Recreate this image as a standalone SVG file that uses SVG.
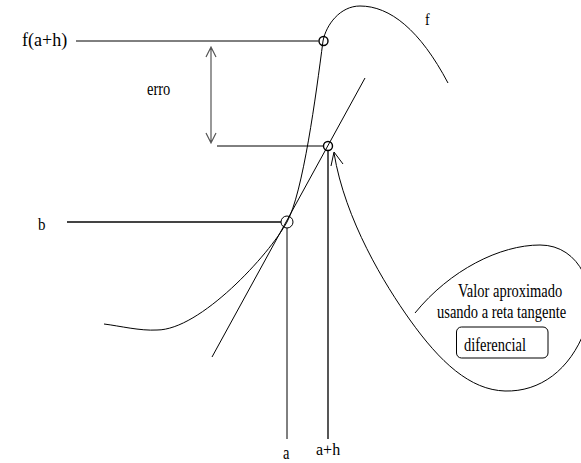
<svg xmlns="http://www.w3.org/2000/svg" width="581" height="463" viewBox="0 0 581 463" font-family="'Liberation Serif', 'Times New Roman', Times, serif">
<style>
.ln{fill:none;stroke:#000;stroke-width:1}
.gl{fill:none;stroke:#444;stroke-width:1.8}
.ga{fill:none;stroke:#555;stroke-width:1.2}
.pt{fill:none;stroke:#000;stroke-width:1.4}
text{font-family:"Liberation Serif","Times New Roman",Times,serif;fill:#000}
.t{font-size:14.5px}
</style>
<rect width="581" height="463" fill="#fff"/>
<g id="connectors">
<line class="ln" x1="76" y1="41" x2="318.5" y2="41"/>
<line class="ln" x1="217" y1="146" x2="323.5" y2="146"/>
<line class="gl" x1="67" y1="222" x2="281" y2="222"/>
<line class="ln" x1="287" y1="228" x2="287" y2="439"/>
<line class="gl" x1="328" y1="150.5" x2="328" y2="439"/>
<line class="ln" x1="365" y1="78" x2="212" y2="357"/>
<path class="ga" d="M211,47 L211,143 M206,57 L211,47 L216,57 M206,133 L211,143 L216,133"/>
<path id="f-curve" class="ln" d="M104,324 C120,326 140,331 157,330 C200,330 269,255 287,222 C303,193 316,95 323,41 C326,25 340,6 360,6 C390,6 420,30 448,83"/>
<path id="callout" class="ln" d="M415,313 C450,270 500,245 540,245 C580,245 600,290 585,330 C570,370 540,392 505,391 C470,390 440,362 410,320 C385,285 345,220 334,153"/>
<path class="ln" d="M343,164 L334,152 L331,166"/>
</g>
<g id="point-fah"><circle class="pt" cx="323.5" cy="41" r="4.5"/></g>
<g id="point-tan"><circle class="pt" cx="328" cy="146" r="4.5"/></g>
<g id="point-b"><circle class="ln" cx="287" cy="222" r="6"/></g>
<g id="label-fah"><text x="22" y="46" font-size="18" font-family="'Liberation Serif', serif">f(a+h)</text></g>
<g id="label-erro"><text class="t" font-family="'Liberation Serif', serif" transform="translate(147,95) scale(1,1.3)">erro</text></g>
<g id="label-f"><text font-size="14" font-family="'Liberation Serif', serif" transform="translate(425,25) scale(1,1.2)">f</text></g>
<g id="label-b"><text font-size="15" font-family="'Liberation Serif', serif" transform="translate(38,230) scale(1,1.1)">b</text></g>
<g id="label-a"><text class="t" font-family="'Liberation Serif', serif" transform="translate(283,459) scale(1,1.25)">a</text></g>
<g id="label-ah"><text font-size="16" font-family="'Liberation Serif', serif" transform="translate(316,455)">a+h</text></g>
<g id="note">
<text class="t" font-family="'Liberation Serif', serif" transform="translate(458,297) scale(1,1.3)">Valor aproximado</text>
<text class="t" font-family="'Liberation Serif', serif" transform="translate(437,318) scale(1,1.3)">usando a reta tangente</text>
</g>
<g id="diferencial">
<rect x="456.5" y="327" width="91.5" height="31" rx="5" ry="5" class="ln"/>
<text class="t" font-family="'Liberation Serif', serif" transform="translate(464,351) scale(1,1.35)">diferencial</text>
</g>
</svg>
